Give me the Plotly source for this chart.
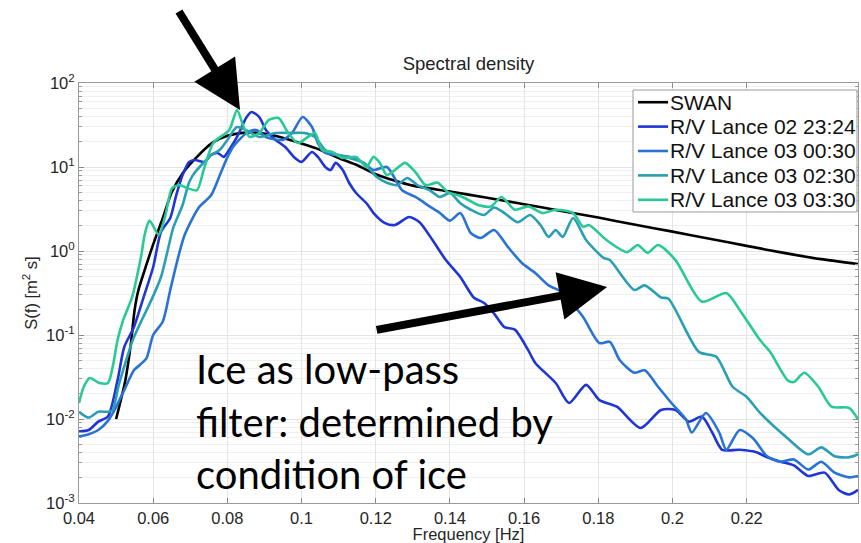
import plotly.graph_objects as go

# ---------------- data ----------------
freq_swan = [0.050, 0.0525, 0.054, 0.055, 0.056, 0.058, 0.060, 0.0625, 0.065, 0.068,
             0.072, 0.076, 0.080, 0.084, 0.088, 0.092, 0.096, 0.100, 0.105, 0.110,
             0.115, 0.120, 0.125, 0.13, 0.14, 0.15, 0.16, 0.17, 0.18, 0.19,
             0.20, 0.21, 0.22, 0.23, 0.24, 0.25]
spec_swan = [0.010, 0.029, 0.08, 0.2, 0.34, 0.65, 1.2, 2.4, 5.0, 8.5,
             13.5, 19.5, 23.5, 25.5, 25.5, 24.0, 21.5, 19.0, 16.0, 12.8,
             10.5, 8.2, 6.9, 6.0, 5.1, 4.3, 3.6, 3.0, 2.5, 2.05,
             1.7, 1.4, 1.15, 0.95, 0.8, 0.70]

freq_a = [0.040, 0.0426, 0.0452, 0.0478, 0.0504, 0.0522, 0.0548, 0.0574, 0.060, 0.0621,
          0.0646, 0.0662, 0.0679, 0.0697, 0.0713, 0.0738, 0.0756, 0.0774, 0.079, 0.0808,
          0.0826, 0.0852, 0.0865, 0.0886, 0.0904, 0.093, 0.0956, 0.0982, 0.100, 0.1028,
          0.1044, 0.1064, 0.1078, 0.1092, 0.1111, 0.1128, 0.1147, 0.1175, 0.1194, 0.1225,
          0.1252, 0.129, 0.1318, 0.1353, 0.1389, 0.1428, 0.1464, 0.1492, 0.1519, 0.1547,
          0.1575, 0.1611, 0.163, 0.1685, 0.1721, 0.1767, 0.1803, 0.185, 0.1914, 0.1969,
          0.2008, 0.2044, 0.2079, 0.2107, 0.2134, 0.2181, 0.2228, 0.2255, 0.2291, 0.2327,
          0.2366, 0.241, 0.2448, 0.2476, 0.250]
spec_a = [0.0071, 0.0074, 0.0093, 0.0107, 0.029, 0.072, 0.124, 0.28, 0.645, 1.68,
          2.47, 4.6, 8.0, 11.5, 12.1, 11.5, 13.9, 14.7, 13.2, 16.8,
          22.8, 39.3, 45.2, 39.3, 27.6, 21.0, 17.3, 12.8, 11.5, 15.1,
          13.2, 10.0, 9.2, 11.2, 9.2, 6.5, 4.9, 3.7, 2.83, 2.15,
          2.04, 2.54, 2.2, 1.35, 0.78, 0.49, 0.28, 0.24, 0.18, 0.124,
          0.116, 0.066, 0.0465, 0.0268, 0.0155, 0.0255, 0.0168, 0.014, 0.0078, 0.0128,
          0.0128, 0.0093, 0.0107, 0.0069, 0.0043, 0.0043, 0.0040, 0.0035, 0.0031, 0.0028,
          0.0021, 0.0023, 0.00143, 0.00126, 0.00143]

freq_b = [0.040, 0.0426, 0.0452, 0.0478, 0.0496, 0.0522, 0.0548, 0.0564, 0.0582, 0.060,
          0.0626, 0.0646, 0.0667, 0.0685, 0.0723, 0.0756, 0.0782, 0.080, 0.0818, 0.0852,
          0.0878, 0.0904, 0.0948, 0.0974, 0.1003, 0.1028, 0.1044, 0.1064, 0.1092, 0.1128,
          0.1167, 0.1194, 0.123, 0.1271, 0.1307, 0.1345, 0.1373, 0.140, 0.1428, 0.1456,
          0.1483, 0.1519, 0.1556, 0.1594, 0.163, 0.1666, 0.1699, 0.1721, 0.1759, 0.1803,
          0.1831, 0.1858, 0.1897, 0.1925, 0.1961, 0.1997, 0.2036, 0.2052, 0.209, 0.2126,
          0.2145, 0.2181, 0.2217, 0.2255, 0.2291, 0.2327, 0.2366, 0.2401, 0.2437, 0.2476,
          0.250]
spec_b = [0.0062, 0.0066, 0.0074, 0.0095, 0.0128, 0.0221, 0.038, 0.044, 0.053, 0.10,
          0.145, 0.344, 0.83, 1.56, 3.3, 4.6, 8.5, 13.0, 18.0, 25.4,
          27.6, 22.8, 21.0, 25.4, 39.3, 29.9, 19.3, 14.7, 13.9, 13.2,
          11.2, 9.2, 10.0, 5.3, 4.4, 3.4, 2.83, 2.3, 2.83, 1.64,
          1.43, 1.78, 1.12, 0.72, 0.547, 0.39, 0.33, 0.26, 0.164, 0.08,
          0.083, 0.05, 0.0355, 0.038, 0.0242, 0.0155, 0.0099, 0.0069, 0.0118, 0.0069,
          0.0043, 0.0074, 0.0059, 0.0036, 0.0031, 0.0033, 0.0025, 0.0031, 0.0023, 0.00202,
          0.0021]

freq_c = [0.040, 0.0426, 0.0452, 0.0478, 0.0491, 0.0506, 0.0525, 0.0545, 0.0569, 0.0595,
          0.0621, 0.0638, 0.0654, 0.0679, 0.0697, 0.0713, 0.0738, 0.0756, 0.0779, 0.080,
          0.0826, 0.086, 0.0886, 0.093, 0.0974, 0.1008, 0.1036, 0.1064, 0.110, 0.1128,
          0.1167, 0.1203, 0.123, 0.1258, 0.1285, 0.1312, 0.1345, 0.1373, 0.140, 0.1428,
          0.1456, 0.1492, 0.1519, 0.1547, 0.1583, 0.1616, 0.1644, 0.1666, 0.1685, 0.1704,
          0.1732, 0.1767, 0.1814, 0.1831, 0.1897, 0.1925, 0.1969, 0.1989, 0.2071, 0.2118,
          0.2162, 0.220, 0.2236, 0.231, 0.2366, 0.2401, 0.2437, 0.2476, 0.250]
spec_c = [0.0122, 0.0104, 0.0122, 0.0122, 0.0128, 0.0242, 0.0465, 0.087, 0.15, 0.26,
          0.49, 0.97, 1.88, 3.5, 6.6, 8.7, 11.5, 13.9, 15.9, 21.0,
          29.9, 26.1, 22.8, 25.4, 25.4, 25.4, 22.8, 15.9, 13.9, 12.8,
          11.2, 7.6, 6.5, 6.1, 7.4, 6.1, 5.3, 4.4, 4.9, 3.7,
          3.1, 2.68, 3.3, 2.83, 2.2, 2.68, 2.04, 1.47, 1.78, 1.47,
          2.47, 1.35, 0.83, 0.78, 0.344, 0.39, 0.28, 0.27, 0.063, 0.055,
          0.0242, 0.0183, 0.0118, 0.0059, 0.0038, 0.0046, 0.0036, 0.0035, 0.0038]

freq_d = [0.040, 0.0413, 0.0429, 0.0455, 0.0478, 0.0491, 0.0504, 0.0519, 0.0543, 0.0556,
          0.0569, 0.0577, 0.059, 0.0615, 0.0633, 0.0651, 0.0672, 0.0692, 0.0718, 0.0736,
          0.0762, 0.0805, 0.0826, 0.0844, 0.086, 0.0886, 0.0912, 0.0938, 0.0964, 0.099,
          0.1017, 0.1036, 0.1056, 0.1083, 0.1111, 0.1147, 0.1175, 0.1194, 0.1211, 0.123,
          0.1258, 0.1279, 0.1307, 0.1334, 0.1367, 0.1395, 0.1422, 0.145, 0.1478, 0.1511,
          0.1539, 0.1575, 0.1611, 0.1649, 0.1685, 0.1732, 0.1759, 0.1775, 0.1822, 0.1878,
          0.1906, 0.1933, 0.1961, 0.2008, 0.2079, 0.2145, 0.2181, 0.2236, 0.2263, 0.231,
          0.2327, 0.2355, 0.2393, 0.2429, 0.2476, 0.250]
spec_d = [0.0155, 0.0242, 0.0307, 0.0268, 0.0268, 0.042, 0.087, 0.15, 0.28, 0.49,
          0.95, 1.56, 2.3, 1.56, 2.68, 5.6, 6.1, 5.6, 5.3, 9.2,
          19.3, 27.6, 47.7, 29.9, 22.8, 25.4, 36.3, 38.3, 25.4, 19.3,
          22.8, 25.4, 15.9, 15.1, 12.8, 13.2, 10.0, 13.2, 11.2, 8.0,
          9.7, 11.2, 8.7, 6.1, 6.5, 5.0, 4.6, 4.05, 3.5, 3.4,
          4.4, 3.1, 3.4, 2.83, 3.1, 2.83, 1.94, 2.04, 1.35, 0.97,
          1.18, 0.95, 1.18, 0.78, 0.25, 0.316, 0.199, 0.087, 0.063, 0.029,
          0.0275, 0.0355, 0.0242, 0.014, 0.0136, 0.0099]

series_names = ["SWAN", "R/V Lance 02 23:24", "R/V Lance 03 00:30",
                "R/V Lance 03 02:30", "R/V Lance 03 03:30"]
series_colors = ["#000000", "#1f35d6", "#2a72d4", "#2a9fb4", "#28c996"]

x_tick_vals = [0.04, 0.06, 0.08, 0.10, 0.12, 0.14, 0.16, 0.18, 0.20, 0.22]
x_tick_text = ["0.04", "0.06", "0.08", "0.1", "0.12", "0.14", "0.16", "0.18", "0.2", "0.22"]
y_tick_vals = [1e-3, 1e-2, 1e-1, 1e0, 1e1, 1e2]
y_tick_text = ["10<sup>-3</sup>", "10<sup>-2</sup>", "10<sup>-1</sup>",
               "10<sup>0</sup>", "10<sup>1</sup>", "10<sup>2</sup>"]

note_lines = ["Ice as low-pass", "filter: determined by", "condition of ice"]

# ---------------- figure ----------------
xs = [freq_swan, freq_a, freq_b, freq_c, freq_d]
ys = [spec_swan, spec_a, spec_b, spec_c, spec_d]
for x, y in zip(xs, ys):
    assert len(x) == len(y), (len(x), len(y))

fig = go.Figure()
for name, col, x, y in zip(series_names, series_colors, xs, ys):
    fig.add_trace(go.Scatter(
        x=x, y=y, name=name, mode="lines", showlegend=False,
        line=dict(color=col, width=2.6, shape="spline", smoothing=0.7),
    ))

sans = "Liberation Sans, Arial, sans-serif"
axis_font = dict(family=sans, size=16.5, color="#262626")
minor_vals = [k * 10.0 ** e for e in range(-3, 2) for k in range(2, 10)]

fig.update_layout(
    width=861, height=543,
    margin=dict(l=79, r=3, t=83, b=40),
    paper_bgcolor="white", plot_bgcolor="white",
    font=dict(family=sans, color="#262626"),
    title=dict(text="Spectral density", x=0.5, xref="paper", xanchor="center",
               y=1 - 64 / 543, yref="container", yanchor="middle",
               font=dict(size=18.5, color="#222222")),
    showlegend=False,
)

fig.update_xaxes(
    range=[0.04, 0.25], tickmode="array", tickvals=x_tick_vals, ticktext=x_tick_text,
    ticks="inside", ticklen=5, tickcolor="#8a8a8a",
    showline=True, linecolor="#9a9a9a", linewidth=1, mirror="ticks",
    showgrid=True, gridcolor="#e4e4e4", zeroline=False,
    tickfont=axis_font,
    title=dict(text="Frequency [Hz]", standoff=0,
               font=dict(size=16.5, color="#262626")),
)
fig.update_yaxes(
    type="log", range=[-3, 2], tickmode="array", tickvals=y_tick_vals, ticktext=y_tick_text,
    ticks="inside", ticklen=5, tickcolor="#8a8a8a",
    showline=True, linecolor="#9a9a9a", linewidth=1, mirror="ticks",
    showgrid=True, gridcolor="#e4e4e4", zeroline=False,
    minor=dict(tickmode="array", tickvals=minor_vals, ticks="inside", ticklen=3,
               tickcolor="#9a9a9a", showgrid=True, gridcolor="#f0f0f0"),
    tickfont=axis_font,
    title=dict(text="S(f) [m<sup>2</sup> s]", standoff=4,
               font=dict(size=16.5, color="#262626")),
)

# ---- legend box drawn in paper space (compact spacing like the original) ----
leg_x0, leg_x1 = 0.7112, 0.9987
leg_y_top, leg_y_bot = 0.9833, 0.6929
fig.add_shape(type="rect", xref="paper", yref="paper",
              x0=leg_x0, x1=leg_x1, y0=leg_y_bot, y1=leg_y_top,
              line=dict(color="#9a9a9a", width=1), fillcolor="white", layer="above")
row_step = (leg_y_top - leg_y_bot) / 5.0
for i, (name, col) in enumerate(zip(series_names, series_colors)):
    yc = leg_y_top - row_step * (i + 0.5)
    fig.add_shape(type="line", xref="paper", yref="paper",
                  x0=leg_x0 + 0.0064, x1=leg_x0 + 0.045, y0=yc, y1=yc,
                  line=dict(color=col, width=2.6), layer="above")
    fig.add_annotation(text=name, xref="paper", yref="paper",
                       x=leg_x0 + 0.0465, y=yc, xanchor="left", yanchor="middle",
                       showarrow=False, borderpad=0,
                       font=dict(family=sans, size=21, color="#111111"))

# text block
for i, (txt, yc) in enumerate(zip(note_lines, [0.318, 0.194, 0.070])):
    fig.add_annotation(text=txt, xref="paper", yref="paper", x=0.147, y=yc,
                       xanchor="left", yanchor="middle", showarrow=False,
                       font=dict(family="Lato, Carlito, sans-serif", size=40, color="#000000"))

# arrows
fig.add_annotation(text="", xref="paper", yref="paper", x=0.2067, y=0.9357,
                   ax=-62, ay=-100, showarrow=True, arrowhead=2, arrowsize=1.2,
                   arrowwidth=8, arrowcolor="#000000", standoff=0)
fig.add_annotation(text="", xref="paper", yref="paper", x=0.678, y=0.514,
                   ax=-232, ay=43, showarrow=True, arrowhead=2, arrowsize=1.2,
                   arrowwidth=8, arrowcolor="#000000", standoff=0)

fig.write_html("out.html")
